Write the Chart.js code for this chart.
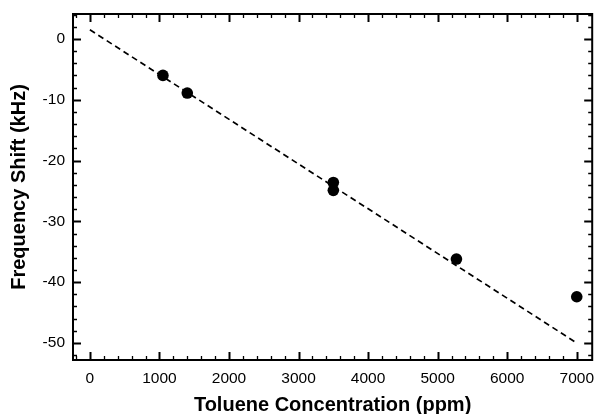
<!DOCTYPE html>
<html><head><meta charset="utf-8">
<script src="https://cdn.jsdelivr.net/npm/chart.js@4"></script>
<style>html,body{margin:0;padding:0;background:#fff}#wrap{width:598px;height:414px}</style>
</head><body><div id="wrap"><canvas id="c" width="598" height="414"></canvas></div>
<script>
const concentration = [1050, 1400, 3500, 3500, 5270, 7000];
const frequencyShift = [-6.0, -8.9, -23.6, -24.9, -36.2, -42.4];
const fitX = [0, 7000];
const fitY = [1.5, -50.0];
const xTickValues = [0, 1000, 2000, 3000, 4000, 5000, 6000, 7000];
const yTickValues = [0, -10, -20, -30, -40, -50];
const xMinorStep = 200, yMinorStep = 2;

const FONT = 'Liberation Sans, Arial, Helvetica, sans-serif';

const frameTicks = {
  id: 'frameTicks',
  afterDraw(chart) {
    const {ctx, chartArea: a, scales: {x, y}} = chart;
    ctx.save();
    ctx.strokeStyle = '#000';
    const majL = 8, minL = 4;
    const xs = (v, L) => {
      const px = Math.round(x.getPixelForValue(v)) + 0.5;
      if (px < a.left + 1 || px > a.right - 1) return;
      ctx.lineWidth = L === majL ? 2 : 1.3;
      ctx.beginPath();
      ctx.moveTo(px, a.bottom); ctx.lineTo(px, a.bottom - L);
      ctx.moveTo(px, a.top); ctx.lineTo(px, a.top + L);
      ctx.stroke();
    };
    const ys = (v, L) => {
      const py = Math.round(y.getPixelForValue(v)) + 0.5;
      if (py < a.top + 1 || py > a.bottom - 1) return;
      ctx.lineWidth = L === majL ? 2 : 1.3;
      ctx.beginPath();
      ctx.moveTo(a.left, py); ctx.lineTo(a.left + L, py);
      ctx.moveTo(a.right, py); ctx.lineTo(a.right - L, py);
      ctx.stroke();
    };
    for (let v = Math.ceil(x.min / xMinorStep) * xMinorStep; v <= x.max; v += xMinorStep) {
      xs(v, xTickValues.includes(v) ? majL : minL);
    }
    for (let v = Math.ceil(y.min / yMinorStep) * yMinorStep; v <= y.max; v += yMinorStep) {
      ys(v, yTickValues.includes(v) ? majL : minL);
    }
    ctx.lineWidth = 2;
    ctx.strokeRect(a.left, a.top, a.right - a.left, a.bottom - a.top);
    ctx.restore();
  }
};

new Chart(document.getElementById('c'), {
  type: 'scatter',
  data: {
    datasets: [
      {
        label: 'Data',
        data: concentration.map((c, i) => ({x: c, y: frequencyShift[i]})),
        pointRadius: 5.8,
        pointHoverRadius: 5.8,
        backgroundColor: '#000',
        borderWidth: 0,
        order: 1
      },
      {
        label: 'Fit',
        type: 'line',
        data: fitX.map((c, i) => ({x: c, y: fitY[i]})),
        borderColor: '#000',
        borderWidth: 1.7,
        borderDash: [6, 4],
        pointRadius: 0,
        fill: false,
        order: 2
      }
    ]
  },
  options: {
    responsive: false,
    animation: false,
    devicePixelRatio: 1,
    layout: {padding: {top: 14, right: 3, left: 0, bottom: 0}},
    plugins: {legend: {display: false}, tooltip: {enabled: false}},
    scales: {
      x: {
        type: 'linear',
        min: -243, max: 7222,
        afterBuildTicks: s => { s.ticks = xTickValues.map(v => ({value: v})); },
        afterFit: s => { s.height = 54; s.paddingLeft = 0; s.paddingRight = 0; },
        grid: {display: false, drawTicks: false},
        border: {display: false},
        ticks: {
          font: {family: FONT, size: 15.5}, color: '#000', padding: 9,
          maxRotation: 0, autoSkip: false, callback: v => String(v)
        },
        title: {
          display: true, text: 'Toluene Concentration (ppm)', color: '#000',
          font: {family: FONT, size: 20, weight: 'bold', lineHeight: 0.9}, padding: 0
        }
      },
      y: {
        type: 'linear',
        min: -52.8, max: 4.1,
        afterBuildTicks: s => { s.ticks = yTickValues.map(v => ({value: v})); },
        afterFit: s => { s.width = 73; s.paddingTop = 0; s.paddingBottom = 0; },
        grid: {display: false, drawTicks: false},
        border: {display: false},
        ticks: {
          font: {family: FONT, size: 15.5}, color: '#000', padding: 8,
          autoSkip: false, callback: v => String(v)
        },
        title: {
          display: true, text: 'Frequency Shift (kHz)', color: '#000',
          font: {family: FONT, size: 20, weight: 'bold', lineHeight: 0.9}, padding: {top: 10, bottom: 0}
        }
      }
    }
  },
  plugins: [frameTicks]
});
</script>
</body></html>
